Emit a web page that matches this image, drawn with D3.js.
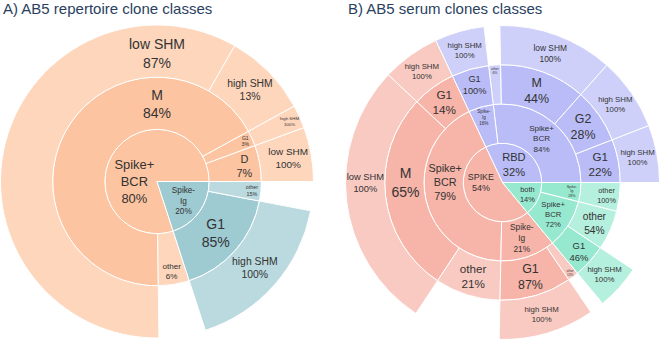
<!DOCTYPE html>
<html><head><meta charset="utf-8">
<script src="https://cdn.jsdelivr.net/npm/d3@7"></script>
<style>body{margin:0;background:#fff}svg{display:block}</style>
</head><body>
<svg id="chart" width="661" height="340"></svg>
<script>
// ---------- Panel A data ----------
const titleA = "A) AB5 repertoire clone classes";
const repIds = ["Spike+ BCR","Spike+ BCR/D","Spike+ BCR/D/low SHM","Spike+ BCR/G1","Spike+ BCR/G1/high SHM",
  "Spike+ BCR/M","Spike+ BCR/M/high SHM","Spike+ BCR/M/low SHM","Spike+ BCR/other",
  "Spike-Ig","Spike-Ig/G1","Spike-Ig/G1/high SHM","Spike-Ig/other"];
const repLabels = ["Spike+<br>BCR","D","low SHM","G1","high SHM","M","high SHM","low SHM","other",
  "Spike-<br>Ig","G1","high SHM","other"];
const repPercent = [80,7,100,3,100,84,13,87,6,20,85,100,15];

// ---------- Panel B data ----------
const titleB = "B) AB5 serum clones classes";
const serIds = ["RBD","RBD/Spike+ BCR","RBD/Spike+ BCR/G1","RBD/Spike+ BCR/G1/high SHM","RBD/Spike+ BCR/G2",
  "RBD/Spike+ BCR/G2/high SHM","RBD/Spike+ BCR/M","RBD/Spike+ BCR/M/low SHM","RBD/Spike+ BCR/other",
  "RBD/Spike-Ig","RBD/Spike-Ig/G1","RBD/Spike-Ig/G1/high SHM",
  "SPIKE","SPIKE/Spike+ BCR","SPIKE/Spike+ BCR/G1","SPIKE/Spike+ BCR/G1/high SHM","SPIKE/Spike+ BCR/M",
  "SPIKE/Spike+ BCR/M/low SHM","SPIKE/Spike+ BCR/other","SPIKE/Spike-Ig","SPIKE/Spike-Ig/G1",
  "SPIKE/Spike-Ig/G1/high SHM","SPIKE/Spike-Ig/other",
  "both","both/Spike+ BCR","both/Spike+ BCR/G1","both/Spike+ BCR/G1/high SHM","both/Spike+ BCR/other",
  "both/Spike-Ig","both/Spike-Ig/other"];
const serLabels = ["RBD","Spike+<br>BCR","G1","high SHM","G2","high SHM","M","low SHM","other",
  "Spike-<br>Ig","G1","high SHM",
  "SPIKE","Spike+<br>BCR","G1","high SHM","M","low SHM","other","Spike-<br>Ig","G1","high SHM","other",
  "both","Spike+<br>BCR","G1","high SHM","other","Spike-<br>Ig","other"];
const serPercent = [32,84,22,100,28,100,44,100,6,16,100,100,
  54,79,14,100,65,100,21,21,87,100,13,
  14,72,46,100,54,28,100];

// ---------- styles ----------
const colorsA = {"Spike+ BCR":"#fcc4a0","Spike-Ig":"#9ecad2"};
const colorsB = {"RBD":"#b9bcf7","SPIKE":"#f7b4a8","both":"#96e8cf"};
const FONT = "'Liberation Sans', Arial, sans-serif";
const FS = 14, TEXTPAD = 3;

const svg = d3.select("#chart");

svg.append("text").attr("x",3).attr("y",14).attr("fill","#2a3f5f")
  .style("font-family",FONT).style("font-size","15px").text(titleA);
svg.append("text").attr("x",348).attr("y",14).attr("fill","#2a3f5f")
  .style("font-family",FONT).style("font-size","15px").text(titleB);

function calcMaxHalfSize(a, halfAngle, r, ring) {
  const q = a + 1 / (2 * Math.tan(halfAngle));
  return r * Math.min(1 / (Math.sqrt(q*q + 0.5) + q), ring / (Math.sqrt(a*a + ring/2) + a));
}
function calcRCenter(a, b) { return Math.cos(b) - a*b; }
function tanT(bb, r, ring, half) {
  r = Math.max(0, r - 2*TEXTPAD);
  const a = bb.height / bb.width;
  const s = calcMaxHalfSize(a, half, r, ring);
  return {scale: 2*s/bb.width, rCenter: calcRCenter(a, s/r)};
}
function radT(bb, r, ring, half) {
  r = Math.max(0, r - 2*TEXTPAD);
  const a = bb.width / bb.height;
  const s = calcMaxHalfSize(a, half, r, ring);
  return {scale: 2*s/bb.height, rCenter: calcRCenter(a, s/r)};
}

function drawSunburst(ids, labels, percents, colors, cx, cy, R) {
  const rows = ids.map((id, i) => ({id, label: labels[i], pct: percents[i]}));
  rows.push({id: "__root", label: "", pct: 100});
  const byId = new Map(rows.map(d => [d.id, d]));
  const parentOf = d => {
    if (d.id === "__root") return null;
    const k = d.id.lastIndexOf("/");
    return k < 0 ? "__root" : d.id.slice(0, k);
  };
  const frac = d => {
    let f = 1, cur = d;
    while (cur && cur.id !== "__root") { f *= cur.pct / 100; cur = byId.get(parentOf(cur)); }
    return f;
  };
  const root = d3.stratify().id(d => d.id).parentId(parentOf)(
    [rows[rows.length-1]].concat(rows.slice(0, -1)));
  root.sum(d => (ids.some(o => o.startsWith(d.id + "/")) || d.id === "__root") ? 0 : frac(d));
  d3.partition().size([1, 1])(root);

  const maxDepth = root.height;
  const rScale = d3.scaleLinear().domain([0, maxDepth]).range([0, R]);
  const nodes = root.descendants().filter(n => n.depth > 0);
  const topOf = n => n.ancestors().find(a => a.depth === 1).data.id;

  const g = svg.append("g").attr("transform", `translate(${cx},${cy})`);
  const arc = d3.arc()
    .startAngle(n => Math.PI/2 - n.x1*2*Math.PI)
    .endAngle(n => Math.PI/2 - n.x0*2*Math.PI)
    .innerRadius(n => rScale(n.depth-1))
    .outerRadius(n => rScale(n.depth));

  g.selectAll("path.slice").data(nodes).join("path")
    .attr("class","slice")
    .attr("d", arc)
    .attr("fill", n => colors[topOf(n)])
    .attr("fill-opacity", n => n.children ? 1 : 0.7)
    .attr("stroke", "#fff").attr("stroke-width", 1);

  nodes.forEach(n => {
    const lo = Math.PI/2 - n.x1*2*Math.PI, hi = Math.PI/2 - n.x0*2*Math.PI;
    const rpx0 = rScale(n.depth-1), rpx1 = rScale(n.depth);
    const ring = 1 - rpx0/rpx1;
    const lines = n.data.label.split("<br>").concat([n.data.pct + "%"]);
    const t = g.append("text").attr("text-anchor","middle").attr("fill","#333")
      .style("font-family", FONT).style("font-size", FS + "px");
    lines.forEach((s, i) => t.append("tspan").attr("x", 0).attr("dy", i ? "1.3em" : 0).text(s));
    const bb = t.node().getBBox();

    const all = [];
    const eps = 1e-9;
    const consider = (a, key) => {
      if (!(a > lo + eps && a < hi - eps)) return;
      const closest = Math.min(Math.abs(a - lo), Math.abs(a - hi));
      const T = key === "tan" ? tanT(bb, rpx1, ring, closest) : radT(bb, rpx1, ring, closest);
      T.angle = a; all.push(T);
    };
    for (let i = 4; i >= -4; i -= 2) consider(Math.PI*i, "tan");
    for (let i = 4; i >= -4; i -= 2) consider(Math.PI*(i+1), "tan");
    for (let i = 4; i >= -4; i -= 2) consider(Math.PI*(i+1.5), "rad");
    for (let i = 4; i >= -4; i -= 2) consider(Math.PI*(i+0.5), "rad");

    let span = hi - lo;
    let delta = ((span + Math.PI) % (2*Math.PI) + 2*Math.PI) % (2*Math.PI) - Math.PI;
    const half = 0.5 * Math.min(delta || Math.PI, Math.PI);
    const rIns = Math.max(0, Math.min(1/(1 + 1/Math.sin(half)), ring/2));
    const diag = Math.hypot(bb.width, bb.height);
    const TI = {scale: rIns*rpx1*2/diag, rCenter: 1 - rIns, angle: (lo+hi)/2};
    let chosen = null;
    if (TI.scale >= 1) chosen = TI; else all.push(TI);
    if (!chosen) {
      let id = 0, mx = 0;
      for (let k = 0; k < all.length; k++) {
        if (mx < all[k].scale) { mx = all[k].scale; id = k; }
        if (mx >= 1) break;
      }
      chosen = all[id];
    }
    const sc = Math.min(1, chosen.scale);
    const rr = chosen.rCenter * rpx1;
    const x = rr*Math.sin(chosen.angle), y = -rr*Math.cos(chosen.angle);
    const bcx = bb.x + bb.width/2, bcy = bb.y + bb.height/2;
    t.attr("transform", `translate(${x - sc*bcx},${y - sc*bcy}) scale(${sc})`);
  });
}

drawSunburst(repIds, repLabels, repPercent, colorsA, 157, 181.5, 156.5);
drawSunburst(serIds, serLabels, serPercent, colorsB, 502.5, 182.5, 157);
</script>
</body></html>
